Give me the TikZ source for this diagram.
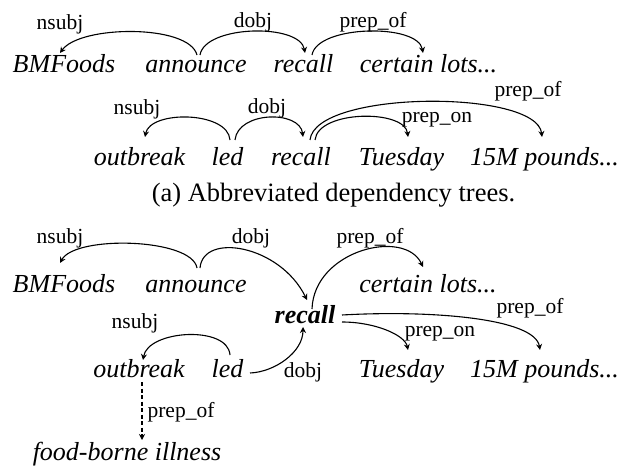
\documentclass[tikz,border=0pt]{standalone}
\usepackage{fontspec}
\setmainfont{Liberation Serif}[ItalicFont={Liberation Serif Italic},BoldFont={Liberation Serif Bold},BoldItalicFont={Liberation Serif Bold Italic}]
\usetikzlibrary{arrows.meta,calc}
\begin{document}
\begin{tikzpicture}[x=1pt,y=-1pt,
  word/.style={inner sep=0pt,anchor=base,font=\fontsize{26}{30}\selectfont\itshape},
  bword/.style={inner sep=0pt,anchor=base,font=\fontsize{26}{30}\selectfont\bfseries\itshape},
  lab/.style={inner sep=0pt,anchor=base,font=\fontsize{21.5}{25}\selectfont},
  captxt/.style={inner sep=0pt,anchor=base,font=\fontsize{26.5}{30}\selectfont},
  arr/.style={line width=1.1pt,-{Stealth[length=6pt,width=6pt,inset=2pt]}},
  darr/.style={arr,dashed,dash pattern=on 4pt off 2.5pt}]
\useasboundingbox (0,0) rectangle (621,468);
% ---------- (a) top tree
\node[word] (bm1) at (64,73) {BMFoods};
\node[word] (an1) at (196,73) {announce};
\node[word] (re1) at (303.5,73) {recall};
\node[word] (ce1) at (428.5,73) {certain lots...};
\node[lab] (l1) at (60,30) {nsubj};
\node[lab] (l2) at (253,28) {dobj};
\node[lab] (l3) at (373,28) {prep\_of};
\draw[arr] ($(an1.base)+(1,-18)$) .. controls +(-8,-31) and +(20,-28) .. ($(bm1.base)+(-4,-20)$);
\draw[arr] ($(an1.base)+(4,-18)$) .. controls +(5,-30) and +(-5,-30) .. ($(re1.base)+(1.5,-20)$);
\draw[arr] ($(re1.base)+(8.5,-18)$) .. controls +(5,-30) and +(-5,-30) .. ($(ce1.base)+(-5.5,-20)$);
% ---------- (a) second tree
\node[word] (ou2) at (139.5,165) {outbreak};
\node[word] (le2) at (227.5,165) {led};
\node[word] (re2) at (301,165) {recall};
\node[word] (tu2) at (401.5,165) {Tuesday};
\node[word] (po2) at (544.5,165) {15M pounds...};
\node[lab] (l4) at (137,115) {nsubj};
\node[lab] (l5) at (267,114) {dobj};
\node[lab] (l6) at (437,123) {prep\_on};
\node[lab] (l7) at (528,97) {prep\_of};
\draw[arr] ($(le2.base)+(2.5,-25)$) .. controls +(-2,-29) and +(5,-27) .. ($(ou2.base)+(5.5,-28)$);
\draw[arr] ($(le2.base)+(7.5,-25)$) .. controls +(3,-29) and +(-3,-27) .. ($(re2.base)+(2,-28)$);
\draw[arr] ($(re2.base)+(14,-25)$) .. controls +(3,-30) and +(-3,-28) .. ($(tu2.base)+(6.5,-28)$);
\draw[arr] ($(re2.base)+(9,-25)$) .. controls +(5,-50) and +(-5,-48) .. ($(po2.base)+(-2.5,-28)$);
% ---------- caption
\node[captxt] (captn) at (333.5,201) {(a) Abbreviated dependency trees.};
% ---------- merged graph
\node[word] (bm3) at (64,292) {BMFoods};
\node[word] (an3) at (196,292) {announce};
\node[word] (ce3) at (428,292) {certain lots...};
\node[bword] (re3) at (305,323) {recall};
\node[word] (ou3) at (139,377) {outbreak};
\node[word] (le3) at (227.5,377) {led};
\node[word] (tu3) at (401.5,377) {Tuesday};
\node[word] (po3) at (544.5,377) {15M pounds...};
\node[word] (fo3) at (127,460) {food-borne illness};
\node[lab] (m1) at (60,243) {nsubj};
\node[lab] (m2) at (251,243) {dobj};
\node[lab] (m3) at (370,243) {prep\_of};
\node[lab] (m4) at (135,328) {nsubj};
\node[lab] (m5) at (303,377) {dobj};
\node[lab] (m6) at (440,336) {prep\_on};
\node[lab] (m7) at (530,313) {prep\_of};
\node[lab] (m8) at (181,417) {prep\_of};
\draw[arr] ($(an3.base)+(1,-24)$) .. controls +(-5,-30) and +(15,-28) .. ($(bm3.base)+(-4,-29)$);
\draw[arr] ($(an3.base)+(4,-24)$) .. controls +(3,-36) and +(-27,-55) .. ($(re3.base)+(2,-23)$);
\draw[arr] ($(re3.base)+(7,-14)$) .. controls +(2,-59) and +(-18,-39) .. ($(ce3.base)+(-5,-25)$);
\draw[arr] ($(le3.base)+(2.5,-22)$) .. controls +(-2,-30) and +(5,-30) .. ($(ou3.base)+(4,-17)$);
\draw[arr] ($(le3.base)+(22.5,-4)$) .. controls +(25,-1) and +(0,25) .. ($(re3.base)+(-2,4)$);
\draw[arr] ($(re3.base)+(37,-1)$) .. controls +(33,0) and +(-3,-15) .. ($(tu3.base)+(6.5,-27)$);
\draw[arr] ($(re3.base)+(37,-8)$) .. controls +(88,-5) and +(-5,-32) .. ($(po3.base)+(-4.5,-27)$);
\draw[darr] ($(ou3.base)+(3,5)$) -- ($(fo3.base)+(15,-20)$);
\end{tikzpicture}
\end{document}
